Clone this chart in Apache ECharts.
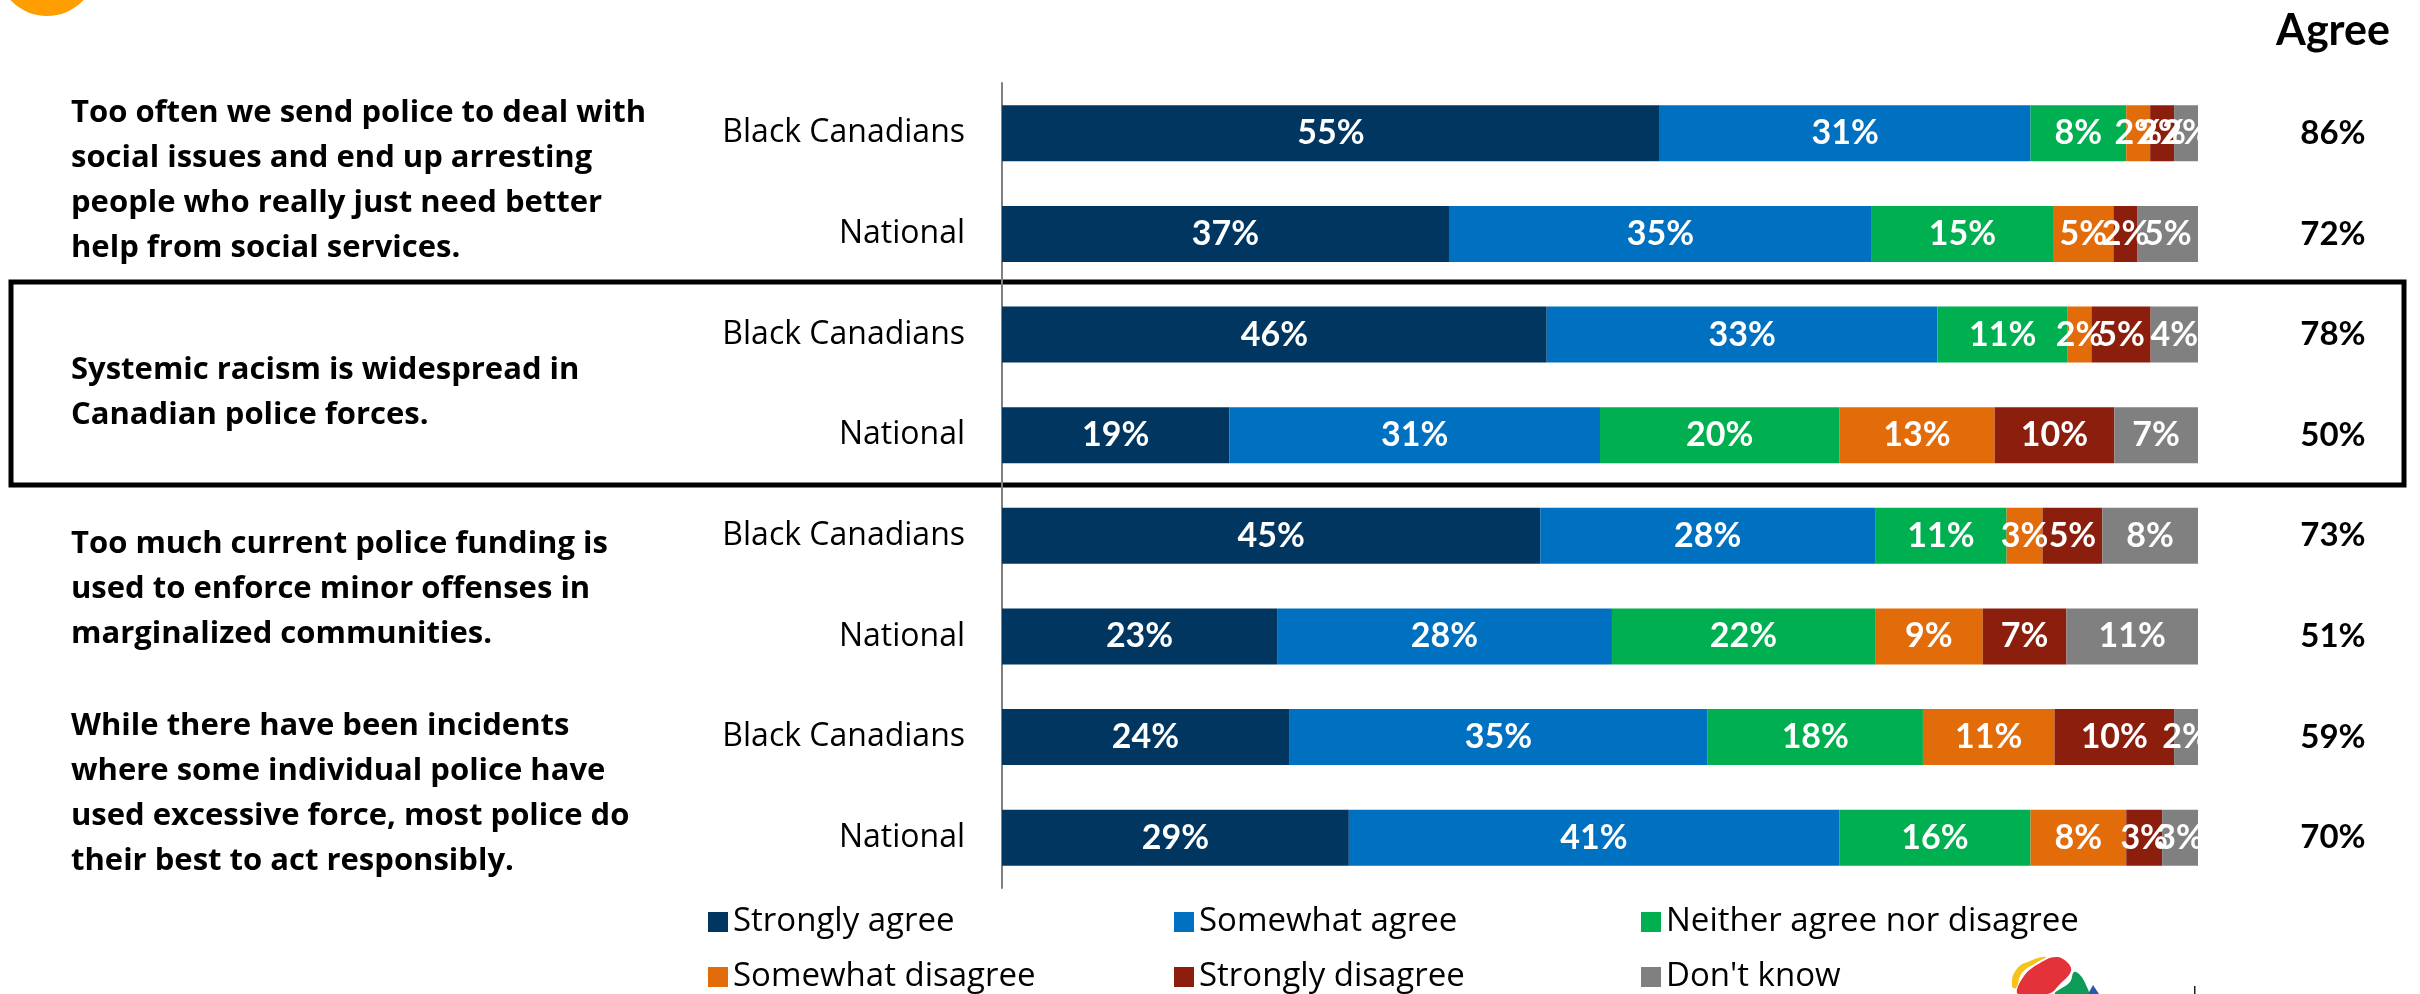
<!DOCTYPE html>
<html>
<head>
<meta charset="utf-8">
<script src="https://cdn.jsdelivr.net/npm/echarts@6/dist/echarts.min.js"></script>
<style>
  html, body { margin: 0; padding: 0; background: #fff; }
  #chart { width: 2420px; height: 994px; }
</style>
</head>
<body>
<div id="chart"></div>
<script>
// Survey rows: each statement has a Black Canadians row and a National row
const groups = ['Black Canadians', 'National'];
const statements = [
  'Too often we send police to deal with\nsocial issues and end up arresting\npeople who really just need better\nhelp from social services.',
  'Systemic racism is widespread in\nCanadian police forces.',
  'Too much current police funding is\nused to enforce minor offenses in\nmarginalized communities.',
  'While there have been incidents\nwhere some individual police have\nused excessive force, most police do\ntheir best to act responsibly.'
];
const seriesNames = ['Strongly agree', 'Somewhat agree', 'Neither agree nor disagree',
                     'Somewhat disagree', 'Strongly disagree', "Don't know"];
const colors = ['#003660', '#0070C0', '#00B050', '#E36C0A', '#8B1E0D', '#808080'];

// Percent per response, one entry per row (top to bottom)
const stronglyAgree    = [55, 37, 46, 19, 45, 23, 24, 29];
const somewhatAgree    = [31, 35, 33, 31, 28, 28, 35, 41];
const neither          = [ 8, 15, 11, 20, 11, 22, 18, 16];
const somewhatDisagree = [ 2,  5,  2, 13,  3,  9, 11,  8];
const stronglyDisagree = [ 2,  2,  5, 10,  5,  7, 10,  3];
const dontKnow         = [ 2,  5,  4,  7,  8, 11,  2,  3];
const agreeTotals      = [86, 72, 78, 50, 73, 51, 59, 70];

const seriesValues = [stronglyAgree, somewhatAgree, neither, somewhatDisagree, stronglyDisagree, dontKnow];

// Row keys (unique) and their displayed group names
const rowKeys = [];
const rowLabels = [];
statements.forEach((s, i) => groups.forEach((g, j) => { rowKeys.push('r' + (i * 2 + j)); rowLabels.push(g); }));

// 100% stacked: each row is scaled to its own total
const rowTotals = rowKeys.map((_, r) => seriesValues.reduce((acc, arr) => acc + arr[r], 0));

const chart = echarts.init(document.getElementById('chart'));

const series = seriesNames.map((name, k) => ({
  name: name,
  type: 'bar',
  stack: 'all',
  barWidth: 56,
  itemStyle: { color: colors[k] },
  label: {
    show: true,
    position: 'inside',
    color: '#fff',
    fontFamily: 'Lato',
    fontWeight: 'bold',
    fontSize: 34,
    formatter: p => seriesValues[k][p.dataIndex] + '%'
  },
  data: seriesValues[k].map((v, r) => v / rowTotals[r] * 100)
}));

// Statement texts on the left
const statementTops = [91, 348, 522, 704];
const graphics = statements.map((s, i) => ({
  type: 'text',
  left: 71,
  top: statementTops[i],
  style: {
    text: s,
    font: 'bold 31px "Open Sans"',
    fill: '#000',
    lineHeight: 45
  }
}));

// Frame around the highlighted statement
graphics.push({
  type: 'rect',
  shape: { x: 11, y: 282, width: 2393, height: 203 },
  style: { fill: 'none', stroke: '#000', lineWidth: 5 }
});

// Column header
graphics.push({
  type: 'text',
  x: 2333, y: 31,
  style: { text: 'Agree', font: 'bold 43px Lato', fill: '#000', align: 'center', verticalAlign: 'middle' }
});

// Orange badge at the top-left corner
graphics.push({
  type: 'circle',
  shape: { cx: 47, cy: -34, r: 50 },
  style: { fill: '#FF9E00' }
});

// Logo mark at the bottom
graphics.push(
  { type: 'polygon', shape: { smooth: 0.5, points: [[2012, 986], [2016, 970], [2030, 961], [2046, 957], [2036, 963], [2022, 973], [2016, 988]] }, style: { fill: '#F7C21A' } },
  { type: 'polygon', shape: { smooth: 0.4, points: [[2018, 994], [2024, 976], [2040, 963], [2056, 957], [2067, 962], [2071, 971], [2060, 984], [2048, 994]] }, style: { fill: '#E4323B' } },
  { type: 'polygon', shape: { smooth: 0.4, points: [[2055, 994], [2070, 982], [2074, 972], [2080, 975], [2086, 985], [2088, 994]] }, style: { fill: '#0E9A57' } },
  { type: 'polygon', shape: { points: [[2088, 994], [2093, 985], [2099, 994]] }, style: { fill: '#2B59A6' } },
  { type: 'rect', shape: { x: 2194, y: 986, width: 1.5, height: 8 }, style: { fill: '#222' } }
);

// Legend: three columns of two entries each
const legendCommon = {
  orient: 'vertical',
  icon: 'rect',
  itemWidth: 20,
  itemHeight: 20,
  itemGap: 21,
  padding: 0,
  top: 905,
  height: 200,
  textStyle: { fontFamily: 'Open Sans', fontSize: 33, color: '#000', lineHeight: 34 },
  selectedMode: false
};

const option = {
  animation: false,
  backgroundColor: '#fff',
  color: colors,
  grid: { left: 1002, right: 222, top: 83, bottom: 106 },
  legend: [
    Object.assign({}, legendCommon, { left: 708, data: [seriesNames[0], seriesNames[3]] }),
    Object.assign({}, legendCommon, { left: 1174, data: [seriesNames[1], seriesNames[4]] }),
    Object.assign({}, legendCommon, { left: 1641, data: [seriesNames[2], seriesNames[5]] })
  ],
  xAxis: { type: 'value', min: 0, max: 100, show: false },
  yAxis: [
    {
      type: 'category',
      inverse: true,
      data: rowKeys,
      axisLine: { show: true, lineStyle: { color: '#808080', width: 2 } },
      axisTick: { show: false },
      axisLabel: {
        margin: 37,
        fontFamily: 'Open Sans',
        fontSize: 32,
        color: '#000',
        formatter: (v, i) => rowLabels[i]
      }
    },
    {
      type: 'category',
      inverse: true,
      position: 'right',
      data: rowKeys,
      axisLine: { show: false },
      axisTick: { show: false },
      axisLabel: {
        margin: 135,
        align: 'center',
        padding: [20, 0, 0, 0],
        fontFamily: 'Lato',
        fontWeight: 'bold',
        fontSize: 33,
        color: '#000',
        formatter: (v, i) => agreeTotals[i] + '%'
      }
    }
  ],
  graphic: graphics,
  series: series
};

chart.setOption(option);
</script>
</body>
</html>
